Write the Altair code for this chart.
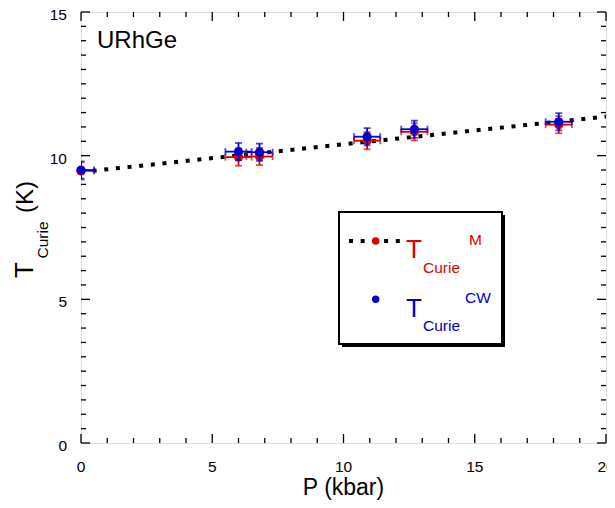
import altair as alt
import pandas as pd

# ---------------- data ----------------
P_KBAR = [0.0, 6.0, 6.8, 10.9, 12.7, 18.2]
T_CURIE_M = [9.47, 9.95, 9.97, 10.52, 10.83, 11.08]
T_CURIE_CW = [9.50, 10.14, 10.12, 10.66, 10.92, 11.18]
P_ERR = [0.5, 0.5, 0.5, 0.5, 0.5, 0.5]
T_ERR = [0.3, 0.3, 0.3, 0.3, 0.3, 0.3]
FIT_P = [0.0, 20.0]
FIT_T = [9.43, 11.36]
X_MAJOR = [0, 5, 10, 15, 20]
X_MINOR = [1, 2, 3, 4, 6, 7, 8, 9, 11, 12, 13, 14, 16, 17, 18, 19]
Y_MAJOR = [0, 5, 10, 15]
Y_MINOR = [0.5, 1, 1.5, 2, 2.5, 3, 3.5, 4, 4.5, 5.5, 6, 6.5, 7, 7.5, 8, 8.5, 9, 9.5,
           10.5, 11, 11.5, 12, 12.5, 13, 13.5, 14, 14.5]

RED = "#e00000"
BLUE = "#0000d0"
FONT = "Liberation Sans"
W, H = 525, 431

xs = alt.Scale(domain=[0, 20], nice=False, zero=False)
ys = alt.Scale(domain=[0, 15], nice=False, zero=False)

df = pd.DataFrame({
    "p": P_KBAR, "tm": T_CURIE_M, "tcw": T_CURIE_CW,
    "pe": P_ERR, "te": T_ERR,
})
df["plo"] = df["p"] - df["pe"]
df["phi"] = df["p"] + df["pe"]
df["tm_lo"] = df["tm"] - df["te"]
df["tm_hi"] = df["tm"] + df["te"]
df["tcw_lo"] = df["tcw"] - df["te"]
df["tcw_hi"] = df["tcw"] + df["te"]

fit = pd.DataFrame({"p": FIT_P, "t": FIT_T})

fit_line = alt.Chart(fit).mark_line(
    color="black", strokeWidth=4, strokeDash=[4, 7.7], strokeCap="butt", clip=True
).encode(
    x=alt.X("p:Q", scale=xs, axis=None),
    y=alt.Y("t:Q", scale=ys, axis=None),
)


def errbars(tcol, lo, hi, color):
    h = alt.Chart(df).mark_errorbar(ticks={"size": 7}, color=color, thickness=1.8, clip=True).encode(
        x=alt.X("plo:Q", scale=xs, axis=None), x2="phi:Q",
        y=alt.Y(f"{tcol}:Q", scale=ys, axis=None),
    )
    v = alt.Chart(df).mark_errorbar(ticks={"size": 7}, color=color, thickness=1.8, clip=True).encode(
        y=alt.Y(f"{lo}:Q", scale=ys, axis=None), y2=f"{hi}:Q",
        x=alt.X("p:Q", scale=xs, axis=None),
    )
    return h + v


def points(tcol, color):
    return alt.Chart(df).mark_circle(size=85, opacity=1, color=color).encode(
        x=alt.X("p:Q", scale=xs, axis=None),
        y=alt.Y(f"{tcol}:Q", scale=ys, axis=None),
    )


# inward ticks on all four sides
def xticks(vals, length):
    d = pd.DataFrame({"v": vals})
    b = alt.Chart(d).mark_rule(color="black", strokeWidth=1.3).encode(
        x=alt.X("v:Q", scale=xs, axis=None), y=alt.value(H), y2=alt.value(H - length))
    t = alt.Chart(d).mark_rule(color="black", strokeWidth=1.3).encode(
        x=alt.X("v:Q", scale=xs, axis=None), y=alt.value(0), y2=alt.value(length))
    return b + t


def yticks(vals, length):
    d = pd.DataFrame({"v": vals})
    l = alt.Chart(d).mark_rule(color="black", strokeWidth=1.3).encode(
        y=alt.Y("v:Q", scale=ys, axis=None), x=alt.value(0), x2=alt.value(length))
    r = alt.Chart(d).mark_rule(color="black", strokeWidth=1.3).encode(
        y=alt.Y("v:Q", scale=ys, axis=None), x=alt.value(W), x2=alt.value(W - length))
    return l + r


# tick labels through the scales
x_labels = alt.Chart(pd.DataFrame({"v": X_MAJOR})).mark_text(
    align="center", baseline="alphabetic", fontSize=15.5, color="black", font=FONT
).encode(x=alt.X("v:Q", scale=xs, axis=None), y=alt.value(H + 29),
         text=alt.Text("v:Q", format="d"))
y_labels = alt.Chart(pd.DataFrame({"v": Y_MAJOR})).mark_text(
    align="right", baseline="middle", fontSize=15.5, color="black", font=FONT, dy=3
).encode(y=alt.Y("v:Q", scale=ys, axis=None), x=alt.value(-14),
         text=alt.Text("v:Q", format="d"))


def label(txt, x, y, size, color="black", align="left", baseline="alphabetic", angle=0):
    return alt.Chart(pd.DataFrame({"t": [txt]})).mark_text(
        align=align, baseline=baseline, fontSize=size, color=color, angle=angle, font=FONT
    ).encode(x=alt.value(x), y=alt.value(y), text="t:N")


# legend box
one = pd.DataFrame({"a": [0]})
shadow = alt.Chart(one).mark_rect(color="black").encode(
    x=alt.value(261), x2=alt.value(424), y=alt.value(203), y2=alt.value(335))
box = alt.Chart(one).mark_rect(fill="white", stroke="black", strokeWidth=2).encode(
    x=alt.value(258), x2=alt.value(421), y=alt.value(200), y2=alt.value(332))
leg_line = alt.Chart(one).mark_rule(
    color="black", strokeWidth=4, strokeDash=[4, 7.7], strokeCap="butt"
).encode(x=alt.value(268), x2=alt.value(321), y=alt.value(229))
leg_red = alt.Chart(one).mark_circle(size=55, opacity=1, color=RED).encode(
    x=alt.value(294.7), y=alt.value(229))
leg_blue = alt.Chart(one).mark_circle(size=55, opacity=1, color=BLUE).encode(
    x=alt.value(294.7), y=alt.value(287.3))

labels = [
    label("URhGe", 16, 36, 24),
    label("P (kbar)", W / 2, 483, 23, align="center"),
    # y title (rotated)
    label("T", -48, 258, 26, align="center", angle=270),
    label("Curie", -33, 228, 15.5, align="center", angle=270),
    label("(K)", -48, 185, 24, align="center", angle=270),
    # legend text
    label("T", 325, 246, 26, color=RED),
    label("Curie", 342, 261, 15.5, color=RED),
    label("M", 388, 233, 15.5, color=RED),
    label("T", 325, 305, 26, color=BLUE),
    label("Curie", 342, 319, 15.5, color=BLUE),
    label("CW", 384, 291, 15.5, color=BLUE),
]

chart = alt.layer(
    fit_line,
    xticks(X_MAJOR, 9), xticks(X_MINOR, 5),
    yticks(Y_MAJOR, 9), yticks(Y_MINOR, 5),
    x_labels, y_labels,
    errbars("tm", "tm_lo", "tm_hi", RED),
    points("tm", RED),
    errbars("tcw", "tcw_lo", "tcw_hi", BLUE),
    points("tcw", BLUE),
    shadow, box, leg_line, leg_red, leg_blue,
    *labels,
).properties(
    width=W, height=H,
    autosize=alt.AutoSizeParams(type="none"),
    padding={"left": 73, "top": 4, "right": 1, "bottom": 57},
).configure_view(
    stroke="black", strokeWidth=2
).configure(
    font=FONT
)

chart.save("out.html", embed_options={"renderer": "svg", "actions": False})
